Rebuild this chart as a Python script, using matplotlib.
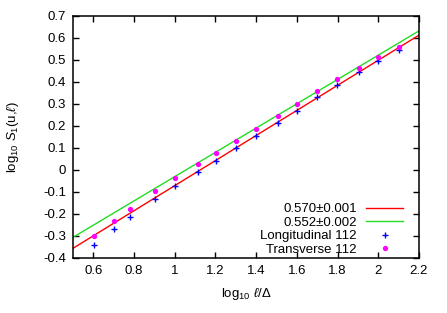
import numpy as np
import matplotlib
matplotlib.use("Agg")
import matplotlib.pyplot as plt

plt.rcParams['font.family'] = ['Liberation Sans', 'DejaVu Sans']
plt.rcParams['mathtext.fontset'] = 'custom'
plt.rcParams['mathtext.rm'] = 'Liberation Sans'
plt.rcParams['mathtext.it'] = 'Liberation Sans:italic'
plt.rcParams['mathtext.fallback'] = 'cm'

# data
log_l = [0.602, 0.699, 0.778, 0.903, 1.0, 1.114, 1.204, 1.301, 1.398, 1.505,
         1.602, 1.699, 1.799, 1.903, 2.0, 2.100]
longitudinal = [-0.341, -0.270, -0.215, -0.133, -0.073, -0.008, 0.042, 0.099, 0.155, 0.215,
                0.270, 0.332, 0.388, 0.445, 0.497, 0.544]
transverse = [-0.300, -0.230, -0.177, -0.097, -0.036, 0.029, 0.079, 0.133, 0.186, 0.244,
              0.299, 0.358, 0.412, 0.465, 0.515, 0.560]
fit_labels = ['0.570±0.001', '0.552±0.002']
fit_slopes = [0.570, 0.552]
fit_intercepts = [-0.641, -0.582]
fit_colors = ['#ff0000', '#22dd22']
x_range = [0.5, 2.2]
y_range = [-0.4, 0.7]
xticks = [0.6, 0.8, 1.0, 1.2, 1.4, 1.6, 1.8, 2.0, 2.2]
xticklabels = ['0.6', '0.8', '1', '1.2', '1.4', '1.6', '1.8', '2', '2.2']
yticks = [-0.4, -0.3, -0.2, -0.1, 0, 0.1, 0.2, 0.3, 0.4, 0.5, 0.6, 0.7]
yticklabels = ['-0.4', '-0.3', '-0.2', '-0.1', '0', '0.1', '0.2', '0.3', '0.4', '0.5', '0.6', '0.7']

FS = 9.5
fig = plt.figure(figsize=(4.47, 3.13), dpi=100)
ax = fig.add_axes([73/447, 1-258/313, (419-73)/447, (258-16)/313])

xs = np.array(x_range)
for lab, m, b, c in zip(fit_labels, fit_slopes, fit_intercepts, fit_colors):
    ax.plot(xs, m*xs + b, color=c, lw=1.0, label=lab)
ax.plot(log_l, longitudinal, linestyle='none', marker='+', color='#0000ff',
        markersize=4, mew=1.0, label='Longitudinal 112')
ax.plot(log_l, transverse, linestyle='none', marker='o', color='#ff00ff',
        markersize=3.8, mew=0, label='Transverse 112')

ax.set_xlim(*x_range)
ax.set_ylim(*y_range)
ax.set_xticks(xticks)
ax.set_xticklabels(xticklabels)
ax.set_yticks(yticks)
ax.set_yticklabels(yticklabels)
ax.tick_params(direction='in', top=True, right=True, length=4, width=1,
               labelsize=FS, pad=5)
for s in ax.spines.values():
    s.set_linewidth(1.1)

ax.set_xlabel(r'log$_{10}$ $\ell/\Delta$', fontsize=FS)
ax.set_ylabel(r'log$_{10}$ $S_1$(u,$\ell$)', fontsize=FS)
ax.xaxis.set_label_coords(0.5, -0.115)
ax.yaxis.set_label_coords(-0.15, 0.5)

leg = ax.legend(loc='lower right', bbox_to_anchor=(403/447, 1-256/313),
                bbox_transform=fig.transFigure, frameon=False, markerfirst=False,
                fontsize=FS, handlelength=2.8, handletextpad=0.7, labelspacing=0.1,
                borderpad=0, borderaxespad=0)
for col in leg._legend_box._children[1]._children:
    col.align = 'right'

fig.savefig('out.png', dpi=100)
